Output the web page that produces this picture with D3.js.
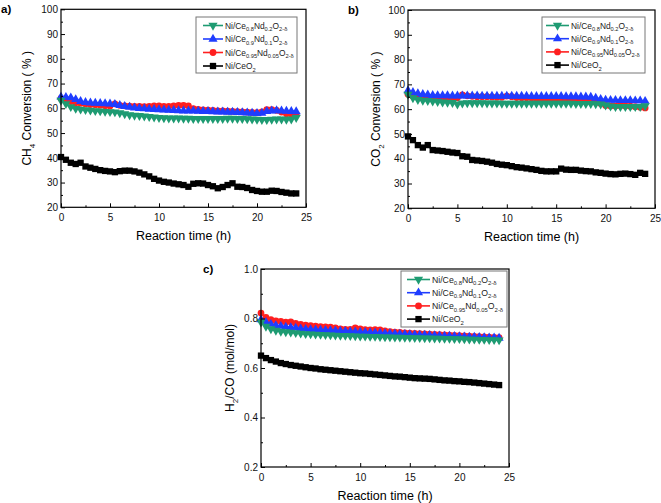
<!DOCTYPE html>
<html><head><meta charset="utf-8">
<script src="https://cdn.jsdelivr.net/npm/d3@7"></script>
<style>
html,body{margin:0;padding:0;background:#fff;}
svg{display:block;font-family:"Liberation Sans",Arial,sans-serif;}
</style></head>
<body>
<svg id="chart" width="661" height="503"></svg>
<script>
// ---------- DATA ----------
const time = [0,0.5,1,1.5,2,2.5,3,3.5,4,4.5,5,5.5,6,6.5,7,7.5,8,8.5,9,9.5,10,10.5,11,11.5,12,12.5,13,13.5,14,14.5,15,15.5,16,16.5,17,17.5,18,18.5,19,19.5,20,20.5,21,21.5,22,22.5,23,23.5,24];

const seriesNames = ["Ni/Ce0.8Nd0.2O2-δ","Ni/Ce0.9Nd0.1O2-δ","Ni/Ce0.95Nd0.05O2-δ","Ni/CeO2"];

// (a) CH4 conversion (%)
const ch4_ce08 = [63.2,61.8,60.6,59.9,59.6,59.4,59.2,59,58.9,58.7,58.6,58.5,58.1,57.7,57.3,57.1,57,56.8,56.6,56.4,56.2,56.1,56,56,56,55.9,55.9,55.8,55.8,55.8,55.8,55.8,55.8,55.8,55.9,55.9,55.8,55.8,55.7,55.6,55.5,55.4,55.4,55.5,55.6,55.6,55.5,55.6,56.2];
const ch4_ce09 = [64.6,64.5,64.3,63.6,62.8,62.4,62.2,62.1,62,61.9,61.8,61.6,61.2,60.8,60.5,60.2,60,59.9,59.7,59.6,59.5,59.4,59.3,59.2,59.1,59,59,59,58.9,58.8,58.8,58.7,58.6,58.6,58.5,58.5,58.4,58.3,58.2,58.1,58,58.1,58.8,59,59.1,59,58.9,58.8,58.7];
const ch4_ce095 = [64,63.2,62.7,62.2,62,61.7,61.5,61.4,61.2,61,60.9,61.8,61.2,61,60.9,60.8,60.8,60.7,60.8,61,61,60.8,60.8,61,61.2,61.2,61,59.9,59.6,59.4,59.3,59.2,59,59,58.9,58.8,58.7,58.6,58.5,58.3,58.2,58.6,59.5,59.5,59.2,58.5,57.8,57.5,57.5];
const ch4_ceo2 = [40.3,39.2,38,37.5,38,36.5,36,35.5,35,34.7,34.5,34.2,34.6,34.8,34.8,34.5,34,33.3,32.5,31.5,30.8,30.3,30,29.6,29.3,29,28.3,29.5,29.7,29.6,29,28.5,27.7,28.2,29,29.7,28.3,28.2,27.8,27,26.6,26.3,26.3,26.7,26.6,26.2,25.9,25.6,25.6];

// (b) CO2 conversion (%)
const co2_ce08 = [66,64.5,63.8,63.5,63.4,63.2,63,62.8,62.7,62.6,62,62.4,62.5,62.5,62.5,62.5,62.4,62.4,62.4,62.3,62.3,62.3,62.3,62.3,62.3,62.3,62.3,62.3,62.3,62.3,62.3,62.3,62.3,62.3,62.2,62.2,62.2,62.2,62.1,62,61.6,61.2,61,61,61,61,61,61,61.3];
const co2_ce09 = [67.5,66.8,66.3,66,65.8,65.6,65.5,65.5,65.5,65.4,65.4,65.4,65.4,65.4,65.4,65.3,65.3,65.3,65.3,65.3,65.3,65.3,65.3,65.3,65.3,65.2,65.2,65.2,65.2,65.2,65.2,65.2,65.1,65.1,65.1,65,65,64.9,64.5,64,63.7,63.6,63.6,63.5,63.5,63.5,63.4,63.4,63.2];
const co2_ce095 = [66,65.2,65,65,64.8,64.7,64.6,64.5,64.5,64.5,64.6,65.8,65.4,65.2,65,65,65,64.9,64.8,64.8,65.3,65,64.7,64.6,64.6,64.5,64.2,63.8,63.7,63.6,63.6,63.5,63.5,63.4,63.4,63.3,63.2,63.1,62.8,62.3,61.5,61.3,61.3,61.4,61.3,61.2,61,60.8,60.5];
const co2_ceo2 = [49,47.5,45.5,44.5,45.5,43.5,43.3,43.1,42.8,42.5,42.3,41,40.8,39.5,39.3,39.1,38.8,38.4,37.9,37.6,37.4,37,36.6,36.4,36.1,35.8,35.5,35.1,34.9,34.9,34.9,36,35.6,35.5,35.5,35.2,35,34.9,34.5,34.3,34,33.8,33.7,33.9,34,33.8,33.5,34.3,33.9];

// (c) H2/CO ratio
const h2co_ce08 = [0.785,0.768,0.758,0.752,0.748,0.746,0.744,0.742,0.74,0.738,0.737,0.736,0.735,0.734,0.733,0.732,0.731,0.731,0.73,0.729,0.728,0.728,0.727,0.727,0.726,0.725,0.725,0.724,0.724,0.723,0.723,0.722,0.722,0.721,0.721,0.72,0.72,0.719,0.719,0.718,0.718,0.717,0.716,0.716,0.715,0.715,0.714,0.714,0.713];
const h2co_ce09 = [0.795,0.785,0.777,0.772,0.769,0.766,0.764,0.762,0.759,0.757,0.755,0.754,0.753,0.752,0.751,0.75,0.749,0.748,0.747,0.746,0.745,0.744,0.743,0.742,0.741,0.74,0.739,0.738,0.737,0.736,0.735,0.734,0.733,0.733,0.732,0.731,0.73,0.729,0.729,0.728,0.727,0.726,0.725,0.725,0.724,0.723,0.722,0.722,0.721];
const h2co_ce095 = [0.822,0.805,0.795,0.79,0.788,0.785,0.786,0.78,0.776,0.773,0.771,0.769,0.767,0.766,0.765,0.762,0.758,0.756,0.756,0.762,0.758,0.755,0.754,0.755,0.754,0.75,0.747,0.745,0.744,0.742,0.741,0.74,0.739,0.738,0.737,0.736,0.735,0.734,0.733,0.732,0.731,0.73,0.729,0.728,0.727,0.726,0.725,0.724,0.723];
const h2co_ceo2 = [0.65,0.64,0.632,0.626,0.62,0.616,0.612,0.609,0.606,0.603,0.6,0.598,0.595,0.593,0.591,0.589,0.587,0.585,0.583,0.581,0.579,0.578,0.576,0.574,0.572,0.57,0.568,0.566,0.565,0.563,0.561,0.559,0.558,0.557,0.556,0.554,0.552,0.55,0.549,0.547,0.546,0.544,0.543,0.541,0.539,0.537,0.535,0.533,0.531];

const xTicks = [0,5,10,15,20,25];
const xMinor = [2.5,7.5,12.5,17.5,22.5];
const pctTicks = [20,30,40,50,60,70,80,90,100];
const pctMinor = [25,35,45,55,65,75,85,95];
const ratioTicks = [0.2,0.4,0.6,0.8,1.0];
const ratioMinor = [0.3,0.5,0.7,0.9];

// ---------- STYLE ----------
const colors = ["#1e9b72","#1f3dff","#ff1f1f","#000000"];
const shapes = ["down","up","circle","square"];

const svg = d3.select("#chart");

function markerPath(shape){
  if(shape==="square") return d3.symbol(d3.symbolSquare, 40)();
  if(shape==="circle") return d3.symbol(d3.symbolCircle, 36)();
  if(shape==="up") return d3.symbol(d3.symbolTriangle, 36)();
  if(shape==="down") return d3.symbol(d3.symbolTriangle, 36)();
}

// text with subscripts: parts = [[text, isSub], ...]
function richText(sel, parts, fs, subfs){
  parts.forEach(([t,sub],i)=>{
    const ts = sel.append("tspan").text(t).attr("font-size", sub?subfs:fs);
    if(sub) ts.attr("dy", fs*0.3);
    else if(i>0 && parts[i-1][1]) ts.attr("dy", -fs*0.3);
  });
}

const legendParts = [
  [["Ni/Ce",0],["0.8",1],["Nd",0],["0.2",1],["O",0],["2-δ",1]],
  [["Ni/Ce",0],["0.9",1],["Nd",0],["0.1",1],["O",0],["2-δ",1]],
  [["Ni/Ce",0],["0.95",1],["Nd",0],["0.05",1],["O",0],["2-δ",1]],
  [["Ni/CeO",0],["2",1]]
];

function panel(cfg){
  const x = d3.scaleLinear().domain([0,25]).range([cfg.left,cfg.right]);
  const y = d3.scaleLinear().domain(cfg.ydom).range([cfg.bottom,cfg.top]);
  const g = svg.append("g");

  // series (draw order: black, red, blue, green)
  [3,2,1,0].forEach(si=>{
    const vals = cfg.series[si];
    const pts = time.map((t,i)=>[t, vals[i]]);
    g.append("path").datum(pts)
      .attr("fill","none").attr("stroke",colors[si]).attr("stroke-width",1.8)
      .attr("d", d3.line().x(d=>x(d[0])).y(d=>y(d[1])));
    g.selectAll(null).data(pts).enter().append("path")
      .attr("d", markerPath(shapes[si]))
      .attr("transform", d=>`translate(${x(d[0])},${y(d[1])})` + (shapes[si]==="down"?" rotate(180)":""))
      .attr("fill", colors[si]);
  });

  // axes
  const fmt = cfg.fmt;
  const ax = g.append("g").attr("transform",`translate(0,${cfg.bottom})`)
    .call(d3.axisBottom(x).tickValues(xTicks).tickSize(-4).tickPadding(7).tickFormat(d3.format("d")));
  const axm = g.append("g").attr("transform",`translate(0,${cfg.bottom})`)
    .call(d3.axisBottom(x).tickValues(xMinor).tickSize(-2).tickFormat(""));
  const ay = g.append("g").attr("transform",`translate(${cfg.left},0)`)
    .call(d3.axisLeft(y).tickValues(cfg.yticks).tickSize(-4).tickPadding(3).tickFormat(fmt));
  const aym = g.append("g").attr("transform",`translate(${cfg.left},0)`)
    .call(d3.axisLeft(y).tickValues(cfg.yminor).tickSize(-2).tickFormat(""));
  [ax,axm,ay,aym].forEach(a=>{
    a.select(".domain").remove();
    a.selectAll("line").attr("stroke","#000").attr("stroke-width",1);
    a.selectAll("text").attr("font-size",10).attr("fill","#111").attr("font-family","Liberation Sans, Arial, sans-serif");
  });
  g.append("rect").attr("x",cfg.left).attr("y",cfg.top)
    .attr("width",cfg.right-cfg.left).attr("height",cfg.bottom-cfg.top)
    .attr("fill","none").attr("stroke","#000").attr("stroke-width",1.2);

  // titles
  g.append("text").attr("x",(cfg.left+cfg.right)/2).attr("y",cfg.bottom+33)
    .attr("text-anchor","middle").attr("font-size",12.5).text("Reaction time (h)");
  const yt = g.append("text").attr("text-anchor","middle")
    .attr("transform",`translate(${cfg.ytx},${(cfg.top+cfg.bottom)/2}) rotate(-90)`);
  richText(yt, cfg.ytitle, 12, 8);
  g.append("text").attr("x",cfg.labx).attr("y",cfg.laby).attr("font-size",11.5)
    .attr("font-weight","bold").text(cfg.label);

  // legend
  const L = cfg.legend;
  g.append("rect").attr("x",L.x).attr("y",L.y).attr("width",L.w).attr("height",L.h)
    .attr("fill","#fff").attr("stroke","#777").attr("stroke-width",1);
  [0,1,2,3].forEach(si=>{
    const ry = L.y + 8.5 + si*L.dy;
    g.append("line").attr("x1",L.x+L.l0).attr("x2",L.x+L.l1).attr("y1",ry).attr("y2",ry)
      .attr("stroke",colors[si]).attr("stroke-width",1.6);
    g.append("path").attr("d",markerPath(shapes[si]))
      .attr("transform",`translate(${L.x+(L.l0+L.l1)/2},${ry})`+(shapes[si]==="down"?" rotate(180)":""))
      .attr("fill",colors[si]);
    const t = g.append("text").attr("x",L.x+L.l1+2).attr("y",ry+3).attr("fill","#222");
    richText(t, legendParts[si], L.fs, L.fs*0.68);
  });
}

panel({left:61,right:306,top:9.3,bottom:207.3,ydom:[20,100],yticks:pctTicks,yminor:pctMinor,
  fmt:d3.format("d"),series:[ch4_ce08,ch4_ce09,ch4_ce095,ch4_ceo2],
  ytitle:[["CH",0],["4",1],[" Conversion ( % )",0]],ytx:31,label:"a)",labx:1,laby:13,
  legend:{x:196,y:17,w:101,h:56,dy:13.5,l0:7,l1:27,fs:8.4}});

panel({left:408,right:655,top:10,bottom:208.3,ydom:[20,100],yticks:pctTicks,yminor:pctMinor,
  fmt:d3.format("d"),series:[co2_ce08,co2_ce09,co2_ce095,co2_ceo2],
  ytitle:[["CO",0],["2",1],[" Conversion ( % )",0]],ytx:380,label:"b)",labx:348,laby:14,
  legend:{x:542,y:17,w:103,h:56,dy:13.2,l0:4,l1:27,fs:8.4}});

panel({left:261,right:509,top:269,bottom:467,ydom:[0.2,1.0],yticks:ratioTicks,yminor:ratioMinor,
  fmt:d3.format(".1f"),series:[h2co_ce08,h2co_ce09,h2co_ce095,h2co_ceo2],
  ytitle:[["H",0],["2",1],["/CO (mol/mol)",0]],ytx:234,label:"c)",labx:203,laby:273,
  legend:{x:401,y:271,w:106,h:56,dy:13.2,l0:6,l1:29,fs:8.7}});
</script>
</body></html>
